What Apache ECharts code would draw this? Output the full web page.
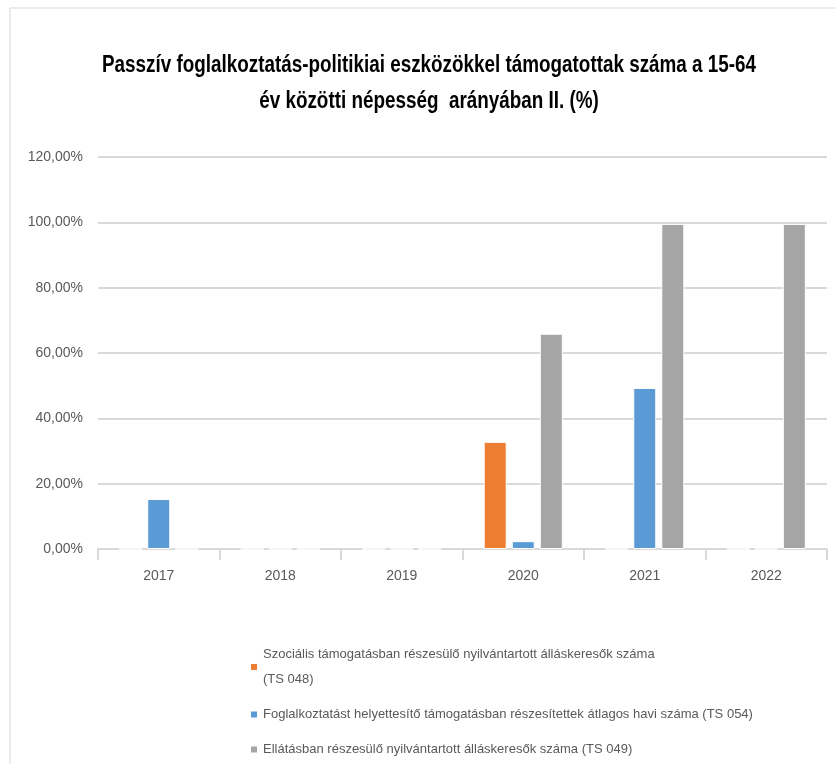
<!DOCTYPE html>
<html>
<head>
<meta charset="utf-8">
<script src="https://cdn.jsdelivr.net/npm/echarts@6/dist/echarts.min.js"></script>
<style>
  html, body { margin: 0; padding: 0; background: #fff; }
  #main { width: 836px; height: 764px; }
</style>
</head>
<body>
<div id="main"></div>
<script>
var years = ['2017', '2018', '2019', '2020', '2021', '2022'];
var names = [
    'Szociális támogatásban részesülő nyilvántartott álláskeresők száma (TS 048)',
    'Foglalkoztatást helyettesítő támogatásban részesítettek átlagos havi száma (TS 054)',
    'Ellátásban részesülő nyilvántartott álláskeresők száma (TS 049)'
];
var szocialis = [0, 0, 0, 32.8, 0, 0];
var foglalkoztatast = [15.3, 0, 0, 2.4, 49.3, 0];
var ellatas = [0, 0, 0, 65.9, 99.5, 99.5];
var colors = ['#ed7d31', '#5b9bd5', '#a5a5a5'];
var titleText = 'Passzív foglalkoztatás-politikiai eszközökkel támogatottak száma a 15-64\név közötti népesség  arányában II. (%)';

var txtFont = '"Liberation Sans Narrow", "Liberation Sans", sans-serif';

var myChart = echarts.init(document.getElementById('main'));
var option = {
    animation: false,
    color: colors,
    graphic: [
        {
            type: 'rect',
            shape: {x: 10, y: 8, width: 900, height: 900},
            style: {fill: 'none', stroke: '#d9d9d9', lineWidth: 1},
            silent: true
        },
        {
            // title, squeezed to look like the narrow Calibri original
            type: 'text',
            x: 429,
            y: 84,
            scaleX: 0.82,
            silent: true,
            style: {
                text: titleText,
                font: 'bold 23px ' + txtFont,
                lineHeight: 36,
                fill: '#000',
                align: 'center',
                verticalAlign: 'middle'
            }
        }
    ],
    legend: {
        orient: 'vertical',
        left: 244,
        top: 637,
        itemWidth: 8,
        itemHeight: 8,
        itemGap: 10,
        icon: 'rect',
        formatter: function (name) {
            return name.replace(' (TS 048)', '\n(TS 048)');
        },
        textStyle: {
            fontFamily: txtFont,
            fontSize: 13,
            lineHeight: 25,
            color: '#595959'
        },
        data: names
    },
    grid: {
        left: 98,
        right: 9,
        top: 157,
        bottom: 215
    },
    xAxis: {
        type: 'category',
        data: years,
        axisLine: {lineStyle: {color: '#d9d9d9', width: 2}},
        axisTick: {show: true, length: 11, lineStyle: {color: '#d9d9d9', width: 2}},
        axisLabel: {
            fontFamily: txtFont,
            fontSize: 14,
            color: '#595959',
            margin: 20
        }
    },
    yAxis: {
        type: 'value',
        min: 0,
        max: 120,
        interval: 20,
        axisLine: {show: false},
        axisTick: {show: false},
        splitLine: {lineStyle: {color: '#d9d9d9', width: 2}},
        axisLabel: {
            fontFamily: txtFont,
            fontSize: 14,
            color: '#595959',
            margin: 15,
            formatter: function (v) {
                return v.toFixed(2).replace('.', ',') + '%';
            }
        }
    },
    series: [
        {
            name: names[0],
            type: 'bar',
            data: szocialis,
            barWidth: 23,
            barGap: '22%',
            itemStyle: {color: colors[0], borderColor: '#fff', borderWidth: 1}
        },
        {
            name: names[1],
            type: 'bar',
            data: foglalkoztatast,
            barWidth: 23,
            barGap: '22%',
            itemStyle: {color: colors[1], borderColor: '#fff', borderWidth: 1}
        },
        {
            name: names[2],
            type: 'bar',
            data: ellatas,
            barWidth: 23,
            barGap: '22%',
            itemStyle: {color: colors[2], borderColor: '#fff', borderWidth: 1}
        }
    ]
};
myChart.setOption(option);
</script>
</body>
</html>
